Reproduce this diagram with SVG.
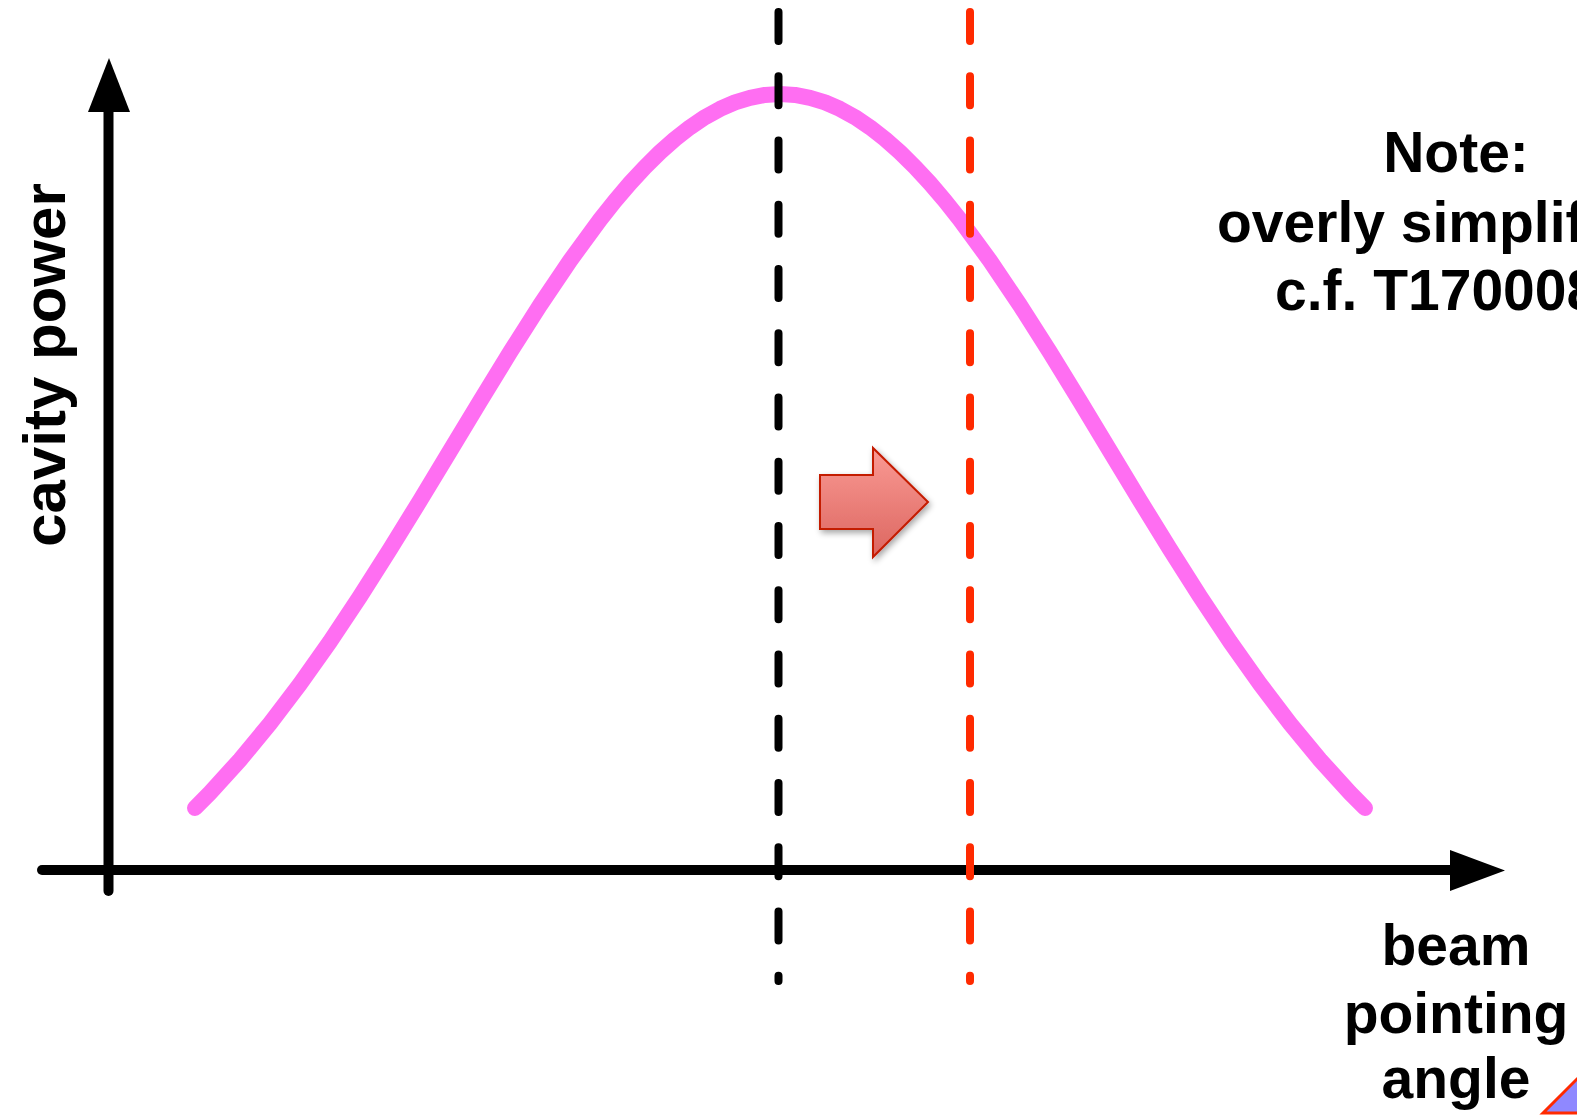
<svg xmlns="http://www.w3.org/2000/svg" width="1577" height="1116" viewBox="0 0 1577 1116">
<style>
.lbl{font-family:"Liberation Sans",Arial,sans-serif;font-weight:bold;font-size:57px;fill:#000}
.axis{stroke:#000;stroke-width:10;stroke-linecap:round;fill:none}
.dash{stroke-width:8;stroke-linecap:round;stroke-dasharray:29 35.25;fill:none}
</style>
<defs>
<linearGradient id="ag" x1="0" y1="0" x2="0" y2="1">
<stop offset="0" stop-color="#fa9a94"/>
<stop offset="1" stop-color="#dc6660"/>
</linearGradient>
<filter id="sh" x="-20%" y="-20%" width="150%" height="150%">
<feGaussianBlur in="SourceAlpha" stdDeviation="3"/>
<feOffset dx="2" dy="3" result="b"/>
<feComponentTransfer><feFuncA type="linear" slope="0.35"/></feComponentTransfer>
<feMerge><feMergeNode/><feMergeNode in="SourceGraphic"/></feMerge>
</filter>
</defs>
<rect width="1577" height="1116" fill="#fff"/>
<g id="axes">
<line class="axis" x1="42" y1="870" x2="1455" y2="870"/>
<polygon points="1450,850 1505,870.5 1450,891" fill="#000"/>
<line class="axis" x1="108.5" y1="891" x2="108.5" y2="108"/>
<polygon points="88,112 109,58 130,112" fill="#000"/>
</g>
<g id="curve">
<polyline fill="none" stroke="#ff6ef2" stroke-width="16" stroke-linecap="round" stroke-linejoin="round" points="195,808 210,792.8 240,759.8 270,723.5 300,684 330,641.6 360,596.5 390,549.3 420,500.6 450,451 480,401.3 510,352.4 540,305.2 570,260.7 600,219.8 615,200.9 630,183.3 645,167.1 660,152.3 675,139 690,127.3 705,117.2 720,108.9 735,102.4 750,97.8 765,94.9 780,94 795,94.9 810,97.8 825,102.4 840,108.9 855,117.2 870,127.3 885,139 900,152.3 915,167.1 930,183.3 945,200.9 960,219.8 990,260.7 1020,305.2 1050,352.4 1080,401.3 1110,451 1140,500.6 1170,549.3 1200,596.5 1230,641.6 1260,684 1290,723.5 1320,759.8 1350,792.8 1365,808"/>
</g>
<g id="connectors">
<line class="dash" stroke="#000" x1="778.5" y1="12" x2="778.5" y2="981"/>
<line class="dash" stroke="#ff2a00" x1="970" y1="12" x2="970" y2="981"/>
</g>
<g id="shift-arrow">
<polygon points="820,475 873,475 873,448 928,502 873,557 873,529 820,529" fill="url(#ag)" stroke="#c41a00" stroke-width="2" filter="url(#sh)"/>
</g>
<g id="y-label">
<text class="lbl" style="font-size:60px" transform="translate(65,365) rotate(-90)" text-anchor="middle">cavity power</text>
</g>
<g id="note">
<text class="lbl" x="1456" y="172" text-anchor="middle">Note:</text>
<text class="lbl" x="1217" y="242">overly simplified</text>
<text class="lbl" x="1275" y="310">c.f. T170008</text>
</g>
<g id="x-label">
<text class="lbl" x="1456" y="965" text-anchor="middle">beam</text>
<text class="lbl" x="1456" y="1033" text-anchor="middle">pointing</text>
<text class="lbl" x="1456" y="1098" text-anchor="middle">angle</text>
</g>
<g id="angle-icon">
<polygon points="1543,1113 1605,1051 1605,1113" fill="#8f88ff" stroke="#ff2a00" stroke-width="3"/>
</g>
</svg>
